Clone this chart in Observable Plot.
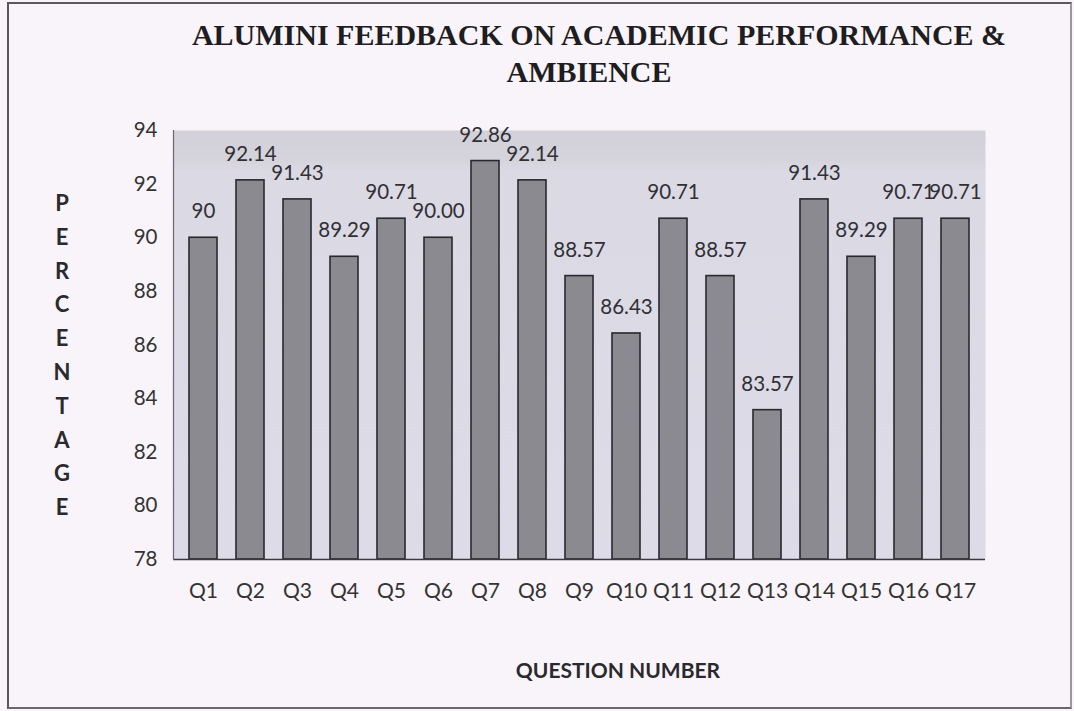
<!DOCTYPE html>
<html>
<head>
<meta charset="utf-8">
<script src="https://cdn.jsdelivr.net/npm/d3@7"></script>
<script src="https://cdn.jsdelivr.net/npm/@observablehq/plot@0.6"></script>
<style>
  html, body { margin: 0; padding: 0; background: #f9f4f9; }
  #wrap { position: relative; width: 1074px; height: 711px; overflow: hidden; background: #f9f4f9; }
  #border { position: absolute; left: 7px; top: 2px; width: 1065px; height: 707px; box-sizing: border-box; border: 2px solid #5a585c; border-right-color: #9a989c; border-bottom-color: #6a686c; pointer-events: none; }
  .title { position: absolute; width: 1000px; text-align: center; font-family: "Liberation Serif", "DejaVu Serif", serif; font-weight: bold; font-size: 30px; line-height: 37px; color: #1e1e22; white-space: nowrap; }
  #t1 { left: 99px; top: 16px; }
  #t2 { left: 89px; top: 53px; }
  #ylab { position: absolute; left: 42px; width: 40px; top: 186px; text-align: center; font-family: Lato, "Open Sans", sans-serif; font-weight: bold; font-size: 22px; line-height: 33.8px; color: #2a2a2e; }
  #xlab { position: absolute; left: 418px; width: 400px; top: 657px; text-align: center; font-family: Lato, "Open Sans", sans-serif; font-weight: bold; font-size: 21px; line-height: 26px; color: #2a2a2e; }
  #chart { position: absolute; left: 0; top: 0; }
</style>
</head>
<body>
<div id="wrap">
  <div id="chart"></div>
  <div class="title" id="t1">ALUMINI FEEDBACK ON ACADEMIC PERFORMANCE &amp;</div>
  <div class="title" id="t2">AMBIENCE</div>
  <div id="ylab"></div>
  <div id="xlab">QUESTION NUMBER</div>
  <div id="border"></div>
</div>
<script>
// ---- data ----
const questions = ["Q1","Q2","Q3","Q4","Q5","Q6","Q7","Q8","Q9","Q10","Q11","Q12","Q13","Q14","Q15","Q16","Q17"];
const percentages = [90, 92.14, 91.43, 89.29, 90.71, 90.00, 92.86, 92.14, 88.57, 86.43, 90.71, 88.57, 83.57, 91.43, 89.29, 90.71, 90.71];
const valueLabels = ["90","92.14","91.43","89.29","90.71","90.00","92.86","92.14","88.57","86.43","90.71","88.57","83.57","91.43","89.29","90.71","90.71"];
const yTicks = [78, 80, 82, 84, 86, 88, 90, 92, 94];
const yAxisTitle = "PERCENTAGE";

const rows = questions.map((q, i) => ({q, v: percentages[i], label: valueLabels[i]}));
const yMin = yTicks[0], yMax = yTicks[yTicks.length - 1];

document.getElementById("ylab").innerHTML = yAxisTitle.split("").map(c => `<div>${c}</div>`).join("");

const chart = Plot.plot({
  width: 1074,
  height: 711,
  marginLeft: 173,
  marginRight: 89,
  marginTop: 130,
  marginBottom: 152,
  style: {fontFamily: "Lato, 'Open Sans', sans-serif", fontSize: "20px", color: "#333", background: "transparent"},
  x: {domain: questions, paddingInner: 0.4, paddingOuter: 0.2, label: null},
  y: {domain: [yMin, yMax], label: null},
  marks: [
    Plot.frame({fill: "url(#plotbg)", stroke: "none"}),
    Plot.barY(rows, {x: "q", y1: yMin, y2: "v", fill: "#8c8a91", stroke: "#28282f", strokeWidth: 1.6}),
    Plot.text(rows, {x: "q", y: "v", text: "label", dy: -26, fontSize: 20.5, fill: "#303034"}),
    Plot.ruleY([yMin], {stroke: "#3a3a3e", strokeWidth: 1.6}),
    Plot.frame({anchor: "left", stroke: "#6a686e", strokeWidth: 1.2}),
    Plot.axisY({ticks: yTicks, tickSize: 0, tickPadding: 16, fontSize: 20.5, label: null}),
    Plot.axisX({tickSize: 0, tickPadding: 24, fontSize: 21, label: null})
  ]
});

const ns = "http://www.w3.org/2000/svg";
const defs = document.createElementNS(ns, "defs");
const grad = document.createElementNS(ns, "linearGradient");
grad.setAttribute("id", "plotbg");
grad.setAttribute("x1", "0"); grad.setAttribute("y1", "0");
grad.setAttribute("x2", "0"); grad.setAttribute("y2", "1");
[["0", "#d2d0d8"], ["0.07", "#d5d3db"], ["0.095", "#dbd9e4"], ["1", "#dddbe7"]].forEach(([o, c]) => {
  const s = document.createElementNS(ns, "stop");
  s.setAttribute("offset", o); s.setAttribute("stop-color", c);
  grad.appendChild(s);
});
defs.appendChild(grad);
chart.insertBefore(defs, chart.firstChild);

document.getElementById("chart").appendChild(chart);
</script>
</body>
</html>
